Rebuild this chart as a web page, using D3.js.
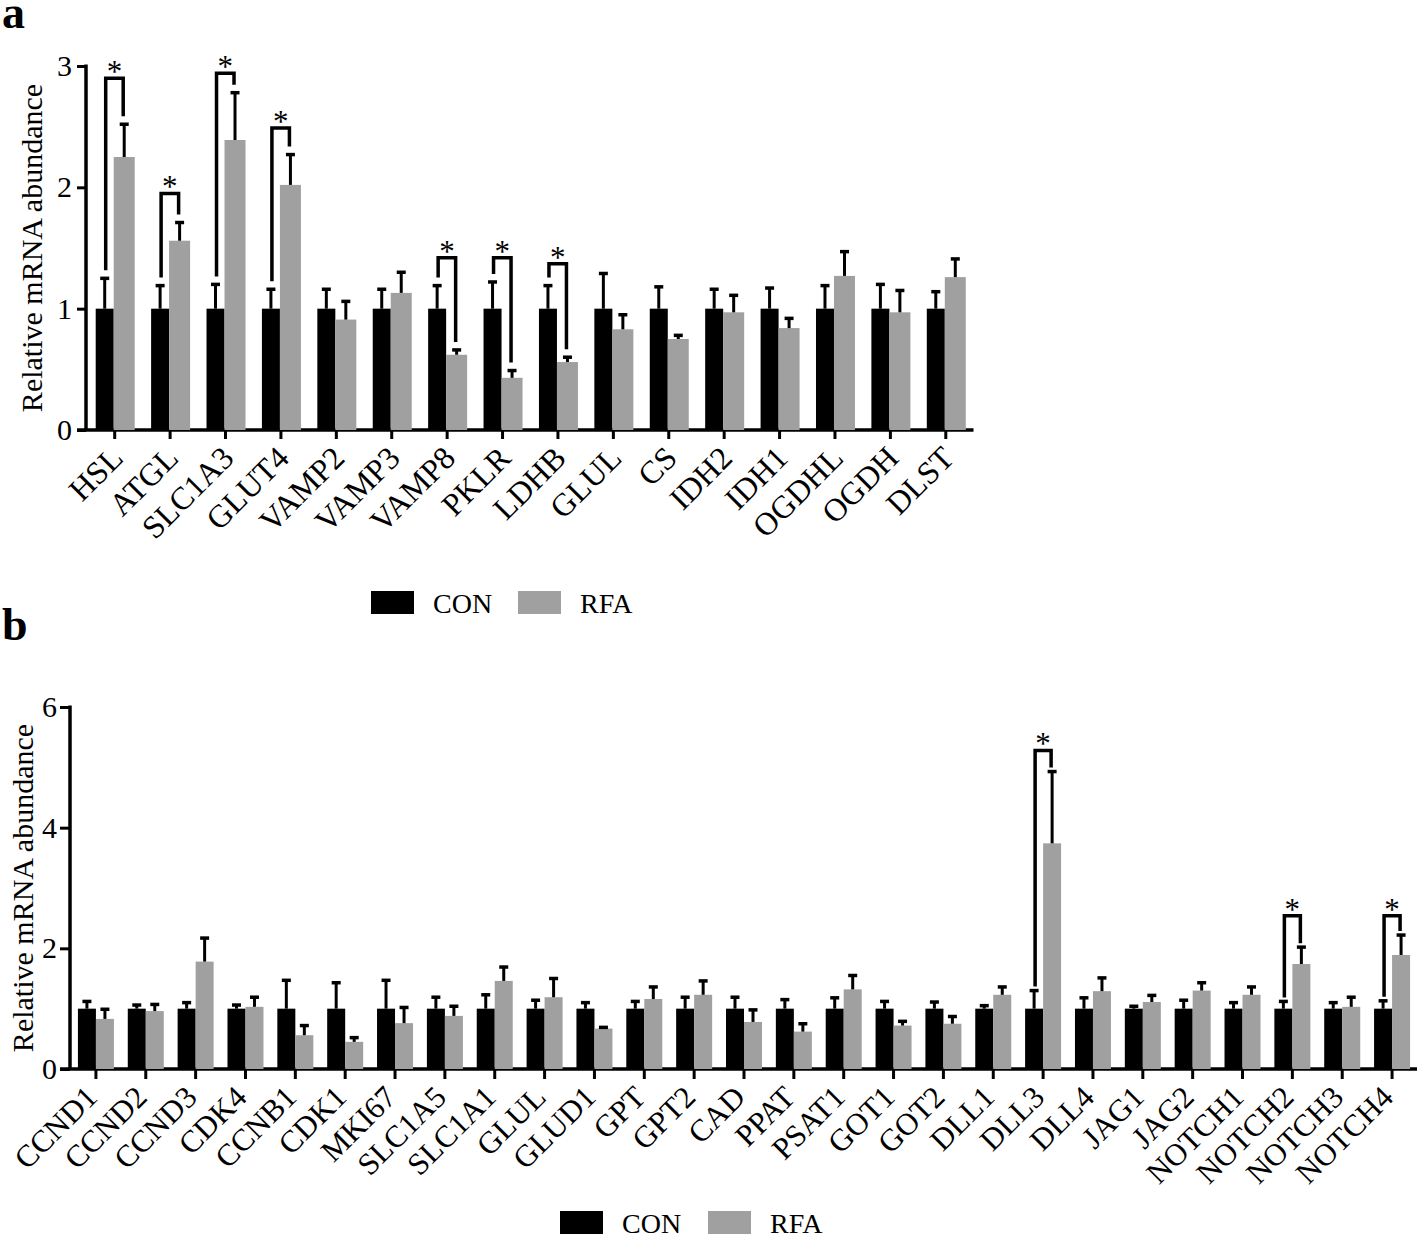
<!DOCTYPE html>
<html>
<head>
<meta charset="utf-8">
<script src="https://cdn.jsdelivr.net/npm/d3@7"></script>
<style>
body { margin: 0; background: #fff; }
svg text { font-family: "Liberation Serif", "Times New Roman", serif; fill: #000; }
</style>
</head>
<body>
<div class="chart"></div>
<script>
var svgWidth = 1418;
var svgHeight = 1239;

// ---- panel a data ----
var genesA = ["HSL", "ATGL", "SLC1A3", "GLUT4", "VAMP2", "VAMP3", "VAMP8", "PKLR",
    "LDHB", "GLUL", "CS", "IDH2", "IDH1", "OGDHL", "OGDH", "DLST"];
var conA = [1, 1, 1, 1, 1, 1, 1, 1, 1, 1, 1, 1, 1, 1, 1, 1];
var conErrA = [0.25, 0.19, 0.20, 0.16, 0.16, 0.16, 0.19, 0.22, 0.19, 0.29, 0.18, 0.16, 0.17, 0.19, 0.20, 0.14];
var rfaA = [2.25, 1.56, 2.39, 2.02, 0.91, 1.13, 0.62, 0.43, 0.56, 0.83, 0.75, 0.97, 0.84, 1.27, 0.97, 1.26];
var rfaErrA = [0.27, 0.15, 0.39, 0.25, 0.15, 0.17, 0.04, 0.06, 0.04, 0.12, 0.03, 0.14, 0.08, 0.20, 0.18, 0.15];
var sigGenesA = ["HSL", "ATGL", "SLC1A3", "GLUT4", "VAMP8", "PKLR", "LDHB"];
var sigTopA = [2.90, 1.95, 2.94, 2.49, 1.42, 1.42, 1.37];
var yTicksA = [0, 1, 2, 3];

// ---- panel b data ----
var genesB = ["CCND1", "CCND2", "CCND3", "CDK4", "CCNB1", "CDK1", "MKI67", "SLC1A5",
    "SLC1A1", "GLUL", "GLUD1", "GPT", "GPT2", "CAD", "PPAT", "PSAT1", "GOT1", "GOT2",
    "DLL1", "DLL3", "DLL4", "JAG1", "JAG2", "NOTCH1", "NOTCH2", "NOTCH3", "NOTCH4"];
var conB = [1, 1, 1, 1, 1, 1, 1, 1, 1, 1, 1, 1, 1, 1, 1, 1, 1, 1, 1, 1, 1, 1, 1, 1, 1, 1, 1];
var conErrB = [0.12, 0.06, 0.10, 0.06, 0.47, 0.43, 0.47, 0.19, 0.23, 0.14, 0.10, 0.12, 0.19, 0.19,
    0.15, 0.18, 0.12, 0.11, 0.05, 0.30, 0.18, 0.04, 0.14, 0.10, 0.12, 0.10, 0.13];
var rfaB = [0.83, 0.96, 1.78, 1.03, 0.56, 0.45, 0.76, 0.88, 1.46, 1.19, 0.67, 1.16, 1.23, 0.78,
    0.62, 1.32, 0.72, 0.75, 1.23, 3.74, 1.29, 1.11, 1.30, 1.23, 1.74, 1.03, 1.89];
var rfaErrB = [0.16, 0.11, 0.39, 0.16, 0.16, 0.07, 0.26, 0.16, 0.23, 0.31, 0.02, 0.20, 0.23, 0.20,
    0.13, 0.23, 0.07, 0.12, 0.13, 1.19, 0.22, 0.11, 0.13, 0.13, 0.28, 0.16, 0.33];
var sigGenesB = ["DLL3", "NOTCH2", "NOTCH4"];
var sigTopB = [5.28, 2.54, 2.54];
var yTicksB = [0, 2, 4, 6];

var groups = ["CON", "RFA"];
var colors = ["#000000", "#a0a0a0"];

var svg = d3.select(".chart")
    .append("svg")
    .attr("width", svgWidth)
    .attr("height", svgHeight);

function drawPanel(p) {
    var g = svg.append("g");

    var x = d3.scaleBand().domain(p.genes).range(p.xRange);
    var y = d3.scaleLinear().domain([0, p.yMax]).range(p.yRange);
    var cx = function(d) { return x(d) + x.bandwidth() / 2; };
    var y0 = y(0);

    // y axis
    var yAxis = g.append("g")
        .attr("transform", `translate(${p.axisX},0)`)
        .call(d3.axisLeft(y).tickValues(p.yTicks).tickFormat(d3.format("d"))
            .tickSize(p.tickLen).tickSizeOuter(0).tickPadding(p.tickPad));
    yAxis.select(".domain").remove();
    yAxis.selectAll(".tick line").attr("stroke", "#000").attr("stroke-width", 3);
    yAxis.selectAll(".tick text").attr("font-size", p.yTickFont).attr("font-family", "Liberation Serif");
    g.append("line")
        .attr("x1", p.axisX).attr("x2", p.axisX)
        .attr("y1", y(p.yMax) - 1.5).attr("y2", y0)
        .attr("stroke", "#000").attr("stroke-width", 3.5);

    // x axis
    var xAxis = g.append("g")
        .attr("transform", `translate(0,${y0})`)
        .call(d3.axisBottom(x).tickSize(p.tickLen).tickSizeOuter(0).tickFormat(""));
    xAxis.select(".domain").remove();
    xAxis.selectAll(".tick line").attr("stroke", "#000").attr("stroke-width", 3);
    g.append("line")
        .attr("x1", p.axisX - p.tickLen).attr("x2", p.xRange[1])
        .attr("y1", y0).attr("y2", y0)
        .attr("stroke", "#000").attr("stroke-width", 3.5);

    // x labels
    g.selectAll(".xlab")
        .data(p.genes)
        .enter().append("text")
        .attr("class", "xlab")
        .attr("transform", d => `translate(${cx(d) + p.labDx},${y0 + p.labDy}) rotate(-45)`)
        .attr("text-anchor", "end")
        .attr("font-size", p.labFont)
        .text(d => d);

    // y title
    g.append("text")
        .attr("transform", `translate(${p.titleX},${(y(p.yMax) + y0) / 2}) rotate(-90)`)
        .attr("text-anchor", "middle")
        .attr("font-size", p.titleFont)
        .text("Relative mRNA abundance");

    // bars
    var series = [
        { vals: p.con, errs: p.conErr, off: p.conOff, w: p.conW, color: colors[0] },
        { vals: p.rfa, errs: p.rfaErr, off: p.rfaOff, w: p.rfaW, color: colors[1] }
    ];
    series.forEach(function(s) {
        g.selectAll(null)
            .data(p.genes)
            .enter().append("rect")
            .attr("x", d => cx(d) + s.off)
            .attr("width", s.w)
            .attr("y", (d, i) => y(s.vals[i]))
            .attr("height", (d, i) => y0 - y(s.vals[i]))
            .attr("fill", s.color);
    });

    // error bars (upper only)
    series.forEach(function(s) {
        var eb = g.selectAll(null)
            .data(p.genes)
            .enter().append("g");
        eb.append("line")
            .attr("x1", d => cx(d) + s.off + s.w / 2)
            .attr("x2", d => cx(d) + s.off + s.w / 2)
            .attr("y1", (d, i) => y(s.vals[i]))
            .attr("y2", (d, i) => y(s.vals[i] + s.errs[i]))
            .attr("stroke", "#000").attr("stroke-width", 3);
        eb.append("line")
            .attr("x1", d => cx(d) + s.off + s.w / 2 - 4.5)
            .attr("x2", d => cx(d) + s.off + s.w / 2 + 4.5)
            .attr("y1", (d, i) => y(s.vals[i] + s.errs[i]))
            .attr("y2", (d, i) => y(s.vals[i] + s.errs[i]))
            .attr("stroke", "#000").attr("stroke-width", 3.5);
    });

    // significance brackets
    p.sigGenes.forEach(function(gene, k) {
        var i = p.genes.indexOf(gene);
        var xl = cx(gene) + p.conOff + p.conW / 2 + 1;
        var xr = cx(gene) + p.rfaOff + p.rfaW / 2 - 1;
        var top = y(p.sigTop[k]);
        var yl = y(p.con[i] + p.conErr[i]) - p.gap;
        var yr = y(p.rfa[i] + p.rfaErr[i]) - p.gap;
        g.append("path")
            .attr("d", `M${xl},${yl}V${top}H${xr}V${yr}`)
            .attr("fill", "none")
            .attr("stroke", "#000")
            .attr("stroke-width", 3.5);
        g.append("text")
            .attr("x", (xl + xr) / 2)
            .attr("y", top + 4)
            .attr("text-anchor", "middle")
            .attr("font-size", 31)
            .text("*");
    });

    // legend
    var lg = g.append("g").attr("transform", `translate(${p.legX},${p.legY})`);
    groups.forEach(function(name, i) {
        lg.append("rect")
            .attr("x", i * p.legStep)
            .attr("y", 0)
            .attr("width", 43).attr("height", 23)
            .attr("fill", colors[i]);
        lg.append("text")
            .attr("x", i * p.legStep + 62)
            .attr("y", 22)
            .attr("font-size", 28)
            .text(name);
    });

    // panel letter
    g.append("text")
        .attr("x", 2)
        .attr("y", p.letterY)
        .attr("font-size", 46)
        .attr("font-weight", "bold")
        .text(p.letter);
}

drawPanel({
    letter: "a", letterY: 28,
    genes: genesA, con: conA, conErr: conErrA, rfa: rfaA, rfaErr: rfaErrA,
    sigGenes: sigGenesA, sigTop: sigTopA, yTicks: yTicksA, yMax: 3,
    xRange: [87, 973.5], yRange: [430, 66], axisX: 86,
    tickLen: 9, tickPad: 5, yTickFont: 30,
    labDx: 10, labDy: 30, labFont: 32,
    titleX: 42, titleFont: 30,
    conOff: -19, conW: 18, rfaOff: -1, rfaW: 21, gap: 8,
    legX: 371, legY: 591, legStep: 147
});

drawPanel({
    letter: "b", letterY: 640,
    genes: genesB, con: conB, conErr: conErrB, rfa: rfaB, rfaErr: rfaErrB,
    sigGenes: sigGenesB, sigTop: sigTopB, yTicks: yTicksB, yMax: 6,
    xRange: [71, 1417], yRange: [1069, 707], axisX: 70,
    tickLen: 10, tickPad: 3, yTickFont: 30,
    labDx: 3, labDy: 30, labFont: 31,
    titleX: 33, titleFont: 30,
    conOff: -18, conW: 18, rfaOff: 0, rfaW: 18, gap: 4,
    legX: 560, legY: 1211, legStep: 148
});
</script>
</body>
</html>
